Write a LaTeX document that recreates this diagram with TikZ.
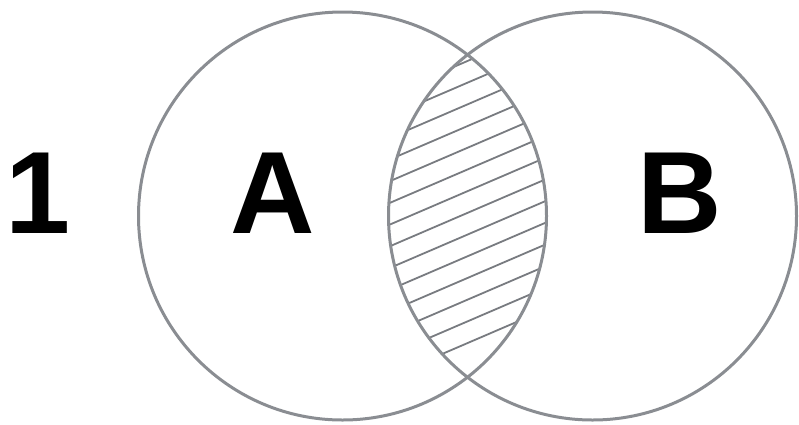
\documentclass[tikz,border=0pt]{standalone}
\usepackage{fontspec}
\setmainfont{Liberation Sans}
\usetikzlibrary{positioning}

\definecolor{setgray}{RGB}{138,141,146}
\definecolor{hatchgray}{RGB}{120,123,128}

\begin{document}
\begin{tikzpicture}[
        x=1pt, y=-1pt,
        setline/.style={draw=setgray, line width=3pt},
        hatch/.style={draw=hatchgray, line width=1.8pt},
        letter/.style={anchor=base, inner sep=0pt, font=\fontsize{117}{117}\selectfont\bfseries}
    ]
        \useasboundingbox (0,0) rectangle (799,424);
        % hatched intersection
        \begin{scope}
            \clip (342.5,216) circle (204pt);
            \clip (592.5,216) circle (204pt);
            \foreach \k in {-9,...,9}
                \draw[hatch] (370,{146.7+\k*21.7+100*0.43}) -- (570,{146.7+\k*21.7-100*0.43});
        \end{scope}
        \node[setline, circle, minimum size=408pt, inner sep=0pt] (setA) at (342.5,216) {};
        \node[setline, circle, minimum size=408pt, inner sep=0pt] (setB) at (592.5,216) {};
        \node[letter] (one) at (38,233) {1};
        \node[letter] (labelA) at (273,233) {A};
        \node[letter] (labelB) at (680,233) {B};
    \end{tikzpicture}
\end{document}
